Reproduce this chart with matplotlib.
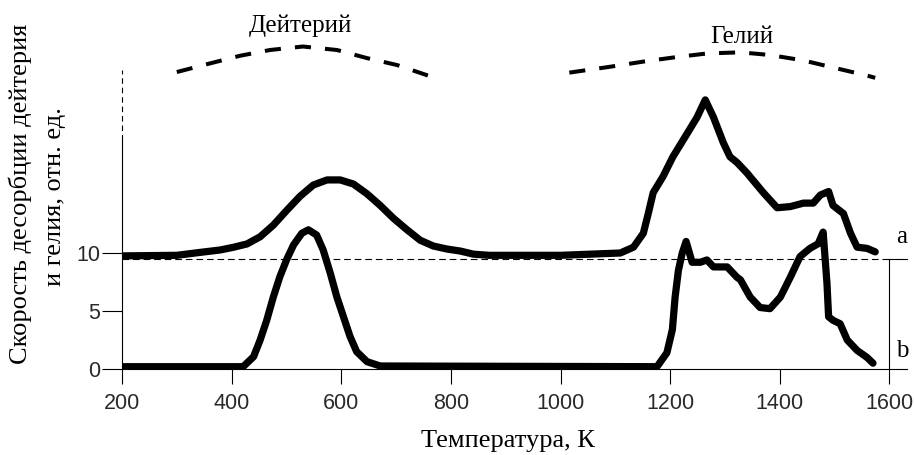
import matplotlib
matplotlib.use('Agg')
import matplotlib.pyplot as plt
import numpy as np

# curve a (offset by ~10 units)
a_T = [200, 300, 342, 379, 403, 428, 452, 476, 501, 525, 549, 574, 598, 622, 647,
       671, 695, 720, 744, 768, 793, 817, 841, 870, 1000, 1109, 1133, 1151, 1160,
       1169, 1187, 1205, 1231, 1249, 1264, 1279, 1297, 1309, 1322, 1340, 1370,
       1395, 1419, 1443, 1461, 1474, 1489, 1497, 1516, 1529, 1541, 1559, 1574]
a_y = [9.75, 9.8, 10.05, 10.26, 10.49, 10.78, 11.4, 12.4, 13.7, 14.9, 15.86, 16.3,
       16.3, 15.95, 15.1, 14.1, 13.0, 12.0, 11.1, 10.6, 10.34, 10.17, 9.9, 9.8,
       9.8, 10.0, 10.5, 11.7, 13.4, 15.2, 16.6, 18.3, 20.3, 21.7, 23.2, 21.7,
       19.5, 18.3, 17.8, 16.9, 15.2, 13.9, 14.0, 14.3, 14.3, 15.0, 15.3, 14.1,
       13.4, 11.7, 10.5, 10.4, 10.1]

# curve b
b_T = [200, 421, 440, 452, 464, 476, 488, 501, 513, 528, 540, 555, 567, 580, 592,
       604, 616, 628, 647, 671, 1176, 1194, 1204, 1209, 1215, 1222, 1229, 1240,
       1255, 1267, 1279, 1304, 1322, 1328, 1346, 1364, 1382, 1401, 1419, 1437,
       1455, 1470, 1479, 1486, 1489, 1497, 1510, 1523, 1541, 1559, 1570]
b_y = [0.2, 0.2, 1.06, 2.5, 4.2, 6.2, 7.96, 9.5, 10.7, 11.7, 12.0, 11.55, 10.26,
       8.25, 6.2, 4.5, 2.8, 1.5, 0.63, 0.26, 0.2, 1.4, 3.4, 6.2, 8.5, 10.0, 11.0,
       9.2, 9.2, 9.4, 8.8, 8.8, 7.9, 7.7, 6.2, 5.3, 5.2, 6.2, 7.9, 9.7, 10.4,
       10.8, 11.8, 7.4, 4.5, 4.2, 3.9, 2.5, 1.6, 1.0, 0.5]

# dashed arcs above the peaks
d_arc_T = [300, 361, 415, 470, 530, 592, 647, 702, 758]
d_arc_y = [25.6, 26.35, 27.0, 27.5, 27.8, 27.5, 26.8, 26.2, 25.3]
h_arc_T = [1016, 1091, 1151, 1213, 1267, 1328, 1382, 1443, 1505, 1559, 1574]
h_arc_y = [25.55, 26.06, 26.5, 26.9, 27.2, 27.3, 27.07, 26.6, 25.9, 25.3, 25.1]

x_ticks = [200, 400, 600, 800, 1000, 1200, 1400, 1600]
y_ticks = [0, 5, 10]
baseline_a = 9.5

W, H = 914, 455
fig = plt.figure(figsize=(W/100, H/100), dpi=100)
ax = fig.add_axes([122/W, (H-369)/H, (907-122)/W, 369/H])
ax.set_xlim(200, 1632)
ax.set_ylim(0, 369/11.6)

ax.plot(a_T, a_y, color='black', lw=5.2, solid_joinstyle='round', solid_capstyle='round')
ax.plot(b_T, b_y, color='black', lw=5.2, solid_joinstyle='round', solid_capstyle='round')

ax.plot(d_arc_T, d_arc_y, color='black', lw=2.9, dashes=(4, 3.5), clip_on=False)
ax.plot(h_arc_T, h_arc_y, color='black', lw=2.9, dashes=(4, 3.5), clip_on=False)

# horizontal reference for curve a
ax.plot([200, 1600], [baseline_a, baseline_a], color='black', lw=0.8, dashes=(6, 3.5))
ax.plot([1600, 1632], [baseline_a, baseline_a], color='black', lw=0.8, clip_on=False)
ax.plot([1600, 1600], [0, baseline_a], color='black', lw=0.8)

# spines
for s in ['top', 'right']:
    ax.spines[s].set_visible(False)
ax.spines['left'].set_bounds(0, 19.7)
ax.spines['left'].set_linewidth(0.8)
ax.spines['bottom'].set_linewidth(0.8)
ax.plot([200, 200], [19.7, 25.8], color='black', lw=0.8, dashes=(5, 3.5), clip_on=False)

ax.set_xticks(x_ticks)
ax.set_yticks(y_ticks)
ax.tick_params(axis='x', direction='out', length=11, width=0.8, pad=6,
               labelsize=15.5, labelcolor='#2a2a2a')
ax.tick_params(axis='y', direction='out', length=14.5, width=0.8, pad=1,
               labelsize=15.5, labelcolor='#2a2a2a')
for lab in ax.get_xticklabels() + ax.get_yticklabels():
    lab.set_fontfamily('Liberation Sans')

serif = 'Liberation Serif'
ax.text(525, 29.05, 'Дейтерий', ha='center', va='baseline', fontsize=18, family=serif)
ax.text(1331, 28.1, 'Гелий', ha='center', va='baseline', fontsize=18, family=serif)
ax.text(1623, 10.86, 'a', ha='center', va='baseline', fontsize=18, family=serif, clip_on=False)
ax.text(1623, 1.03, 'b', ha='center', va='baseline', fontsize=18, family=serif, clip_on=False)

fig.text(508/W, 1 - 447/H, 'Температура, К', ha='center', va='baseline', fontsize=19, family=serif)
fig.text(20/W, 1 - 194/H, 'Скорость десорбции дейтерия', ha='center', va='center',
         rotation=90, fontsize=19, family=serif)
fig.text(55/W, 1 - 197/H, 'и гелия, отн. ед.', ha='center', va='center',
         rotation=90, fontsize=19, family=serif)

fig.savefig('out.png', dpi=100)
